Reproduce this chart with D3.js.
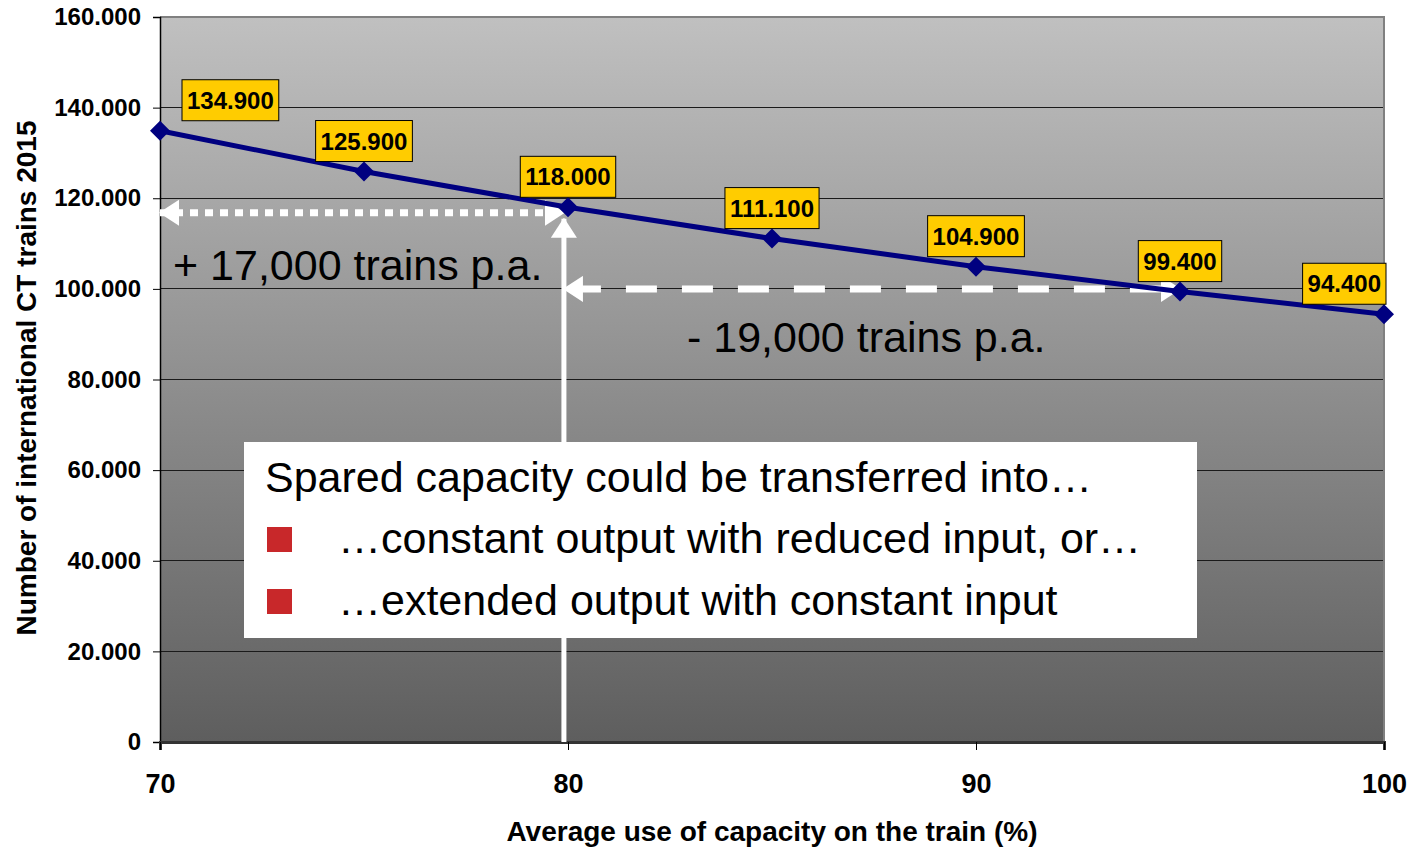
<!DOCTYPE html>
<html>
<head>
<meta charset="utf-8">
<script src="https://cdn.jsdelivr.net/npm/d3@7/dist/d3.min.js"></script>
<style>
  html, body { margin: 0; padding: 0; background: #ffffff; }
  svg { display: block; font-family: "Liberation Sans", Arial, sans-serif; }
</style>
</head>
<body>
<svg id="chart" width="1410" height="848"></svg>
<script>
// ---- data ----
const capacity = [70, 75, 80, 85, 90, 95, 100];
const trains = [134900, 125900, 118000, 111100, 104900, 99400, 94400];
const yTicks = [0, 20000, 40000, 60000, 80000, 100000, 120000, 140000, 160000];
const xTicks = [70, 80, 90, 100];
const yTitle = "Number of international CT trains 2015";
const xTitle = "Average use of capacity on the train (%)";
const increaseText = "+ 17,000 trains p.a.";
const decreaseText = "- 19,000 trains p.a.";
const boxLines = [
  "Spared capacity could be transferred into…",
  "…constant output with reduced input, or…",
  "…extended output with constant input"
];
// annotation anchors (data units)
const incArrow = { x0: 70, x1: 79.9, y: 116800 };
const decArrow = { x0: 79.9, x1: 95, y: 100000 };
const vertArrow = { x: 79.9, y0: 0, y1: 115500 };

// ---- layout ----
const svg = d3.select("#chart");
const L = 160, R = 1384, T = 17, B = 742;
const x = d3.scaleLinear().domain([70, 100]).range([L, R]);
const y = d3.scaleLinear().domain([0, 160000]).range([B, T]);
const fmt = v => d3.format(",")(v).replace(/,/g, ".");

// background gradient
const defs = svg.append("defs");
const grad = defs.append("linearGradient").attr("id", "bg")
  .attr("x1", 0).attr("y1", 0).attr("x2", 0).attr("y2", 1);
grad.append("stop").attr("offset", "0%").attr("stop-color", "#c0c0c0");
grad.append("stop").attr("offset", "100%").attr("stop-color", "#5e5e5e");

defs.append("marker").attr("id", "ah").attr("viewBox", "0 0 20 26")
  .attr("refX", 19).attr("refY", 13).attr("markerWidth", 20).attr("markerHeight", 26)
  .attr("markerUnits", "userSpaceOnUse").attr("orient", "auto-start-reverse")
  .append("path").attr("d", "M0,0 L20,13 L0,26 Z").attr("fill", "#ffffff");

svg.append("rect").attr("x", L).attr("y", T).attr("width", R - L).attr("height", B - T)
  .attr("fill", "url(#bg)");

// gridlines
svg.append("g").selectAll("line").data(yTicks.filter(d => d > 0)).join("line")
  .attr("x1", L).attr("x2", R).attr("y1", d => y(d)).attr("y2", d => y(d))
  .attr("stroke", "#1a1a1a").attr("stroke-width", 1).attr("shape-rendering", "crispEdges");

// plot border top/right
svg.append("path").attr("d", `M${L},${T} H${R} V${B}`).attr("fill", "none")
  .attr("stroke", "#808080").attr("stroke-width", 2);

// y axis
const yAxis = svg.append("g").attr("transform", `translate(${L},0)`)
  .call(d3.axisLeft(y).tickValues(yTicks).tickFormat(fmt).tickSize(7).tickPadding(12));
yAxis.select(".domain").attr("stroke", "#000").attr("stroke-width", 1.5);
yAxis.selectAll(".tick line").attr("stroke", "#000");
yAxis.selectAll("text").attr("font-size", 24).attr("font-weight", "bold")
  .attr("font-family", "Liberation Sans, Arial, sans-serif").attr("fill", "#000");

// x axis
const xAxis = svg.append("g").attr("transform", `translate(0,${B})`)
  .call(d3.axisBottom(x).tickValues(xTicks).tickFormat(d3.format("d")).tickSize(8).tickPadding(24));
xAxis.select(".domain").attr("stroke", "#333").attr("stroke-width", 3);
xAxis.selectAll(".tick line").attr("stroke", "#000");
xAxis.selectAll("text").attr("font-size", 27).attr("font-weight", "bold")
  .attr("font-family", "Liberation Sans, Arial, sans-serif").attr("fill", "#000");

// axis titles
svg.append("text").attr("x", 772).attr("y", 841).attr("text-anchor", "middle")
  .attr("font-size", 28).attr("font-weight", "bold").text(xTitle);
svg.append("text").attr("transform", "translate(36,378) rotate(-90)").attr("text-anchor", "middle")
  .attr("font-size", 28).attr("font-weight", "bold").text(yTitle);

// white arrows
const ann = svg.append("g");
ann.append("line").attr("x1", x(vertArrow.x)).attr("x2", x(vertArrow.x))
  .attr("y1", y(vertArrow.y0)).attr("y2", y(vertArrow.y1))
  .attr("stroke", "#fff").attr("stroke-width", 5).attr("marker-end", "url(#ah)");
ann.append("line").attr("x1", x(incArrow.x0)).attr("x2", x(incArrow.x1))
  .attr("y1", y(incArrow.y)).attr("y2", y(incArrow.y))
  .attr("stroke", "#fff").attr("stroke-width", 7).attr("stroke-dasharray", "8,7")
  .attr("marker-start", "url(#ah)").attr("marker-end", "url(#ah)");
ann.append("line").attr("x1", x(decArrow.x0)).attr("x2", x(decArrow.x1))
  .attr("y1", y(decArrow.y)).attr("y2", y(decArrow.y))
  .attr("stroke", "#fff").attr("stroke-width", 7).attr("stroke-dasharray", "31,25")
  .attr("stroke-dashoffset", -6)
  .attr("marker-start", "url(#ah)").attr("marker-end", "url(#ah)");

ann.append("text").attr("x", 173).attr("y", 280).attr("font-size", 43).attr("fill", "#000").text(increaseText);
ann.append("text").attr("x", 687).attr("y", 352).attr("font-size", 43).attr("fill", "#000").text(decreaseText);

// line + markers
const line = d3.line().x((d, i) => x(capacity[i])).y(d => y(d));
svg.append("path").datum(trains).attr("d", line).attr("fill", "none")
  .attr("stroke", "#000080").attr("stroke-width", 5);
svg.append("g").selectAll("path").data(trains).join("path")
  .attr("transform", (d, i) => `translate(${x(capacity[i])},${y(d)})`)
  .attr("d", "M0,-10 L10,0 L0,10 L-10,0 Z").attr("fill", "#000080");

// data labels
const lg = svg.append("g");
trains.forEach((d, i) => {
  const g = lg.append("g");
  const t = g.append("text").attr("font-size", 24).attr("font-weight", "bold")
    .attr("text-anchor", "middle").attr("fill", "#000").text(fmt(d));
  const w = t.node().getComputedTextLength() + 10, h = 41;
  let bx = x(capacity[i]) - w / 2;
  bx = Math.max(L + 22, Math.min(R + 2 - w, bx));
  const by = y(d) - 10 - h;
  g.insert("rect", "text").attr("x", bx).attr("y", by).attr("width", w).attr("height", h)
    .attr("fill", "#ffcc00").attr("stroke", "#000").attr("stroke-width", 1);
  t.attr("x", bx + w / 2).attr("y", by + h / 2 + 8.5);
});

// text box
const box = svg.append("g");
box.append("rect").attr("x", 244).attr("y", 442).attr("width", 953).attr("height", 196).attr("fill", "#fff");
box.append("text").attr("x", 265).attr("y", 492).attr("font-size", 43).attr("fill", "#000").text(boxLines[0]);
[1, 2].forEach((k, j) => {
  box.append("rect").attr("x", 267).attr("y", 527 + j * 62).attr("width", 25).attr("height", 25).attr("fill", "#c8282a");
  box.append("text").attr("x", 338).attr("y", 553 + j * 62).attr("font-size", 43).attr("fill", "#000").text(boxLines[k]);
});
</script>
</body>
</html>
